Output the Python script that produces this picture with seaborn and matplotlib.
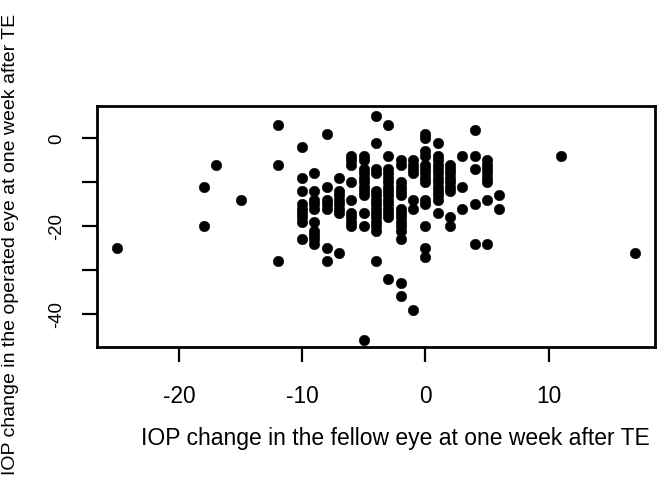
import matplotlib
matplotlib.use("Agg")
import matplotlib.pyplot as plt
import seaborn as sns
import pandas as pd

# IOP change in the fellow eye (x) and operated eye (y) at one week after TE
fellow_change = [
    -25,
    -18, -18,
    -17,
    -15,
    -12, -12, -12,
    -10, -10, -10, -10, -10, -10, -10, -10, -10,
    -9, -9, -9, -9, -9, -9, -9, -9, -9, -9,
    -8, -8, -8, -8, -8, -8, -8,
    -7, -7, -7, -7, -7, -7, -7, -7,
    -6, -6, -6, -6, -6, -6, -6, -6, -6,
    -5, -5, -5, -5, -5, -5, -5, -5, -5, -5, -5, -5,
    -4, -4, -4, -4, -4, -4, -4, -4, -4, -4, -4, -4, -4, -4, -4,
    -3, -3, -3, -3, -3, -3, -3, -3, -3, -3, -3, -3, -3, -3, -3,
    -2, -2, -2, -2, -2, -2, -2, -2, -2, -2, -2, -2, -2, -2, -2,
    -1, -1, -1, -1, -1, -1, -1,
    0, 0, 0, 0, 0, 0, 0, 0, 0, 0, 0, 0, 0, 0,
    1, 1, 1, 1, 1, 1, 1, 1, 1, 1, 1, 1, 1,
    2, 2, 2, 2, 2, 2, 2, 2, 2,
    3, 3, 3,
    4, 4, 4, 4, 4,
    5, 5, 5, 5, 5, 5, 5, 5,
    6, 6,
    11,
    17,
]
operated_change = [
    -25,
    -11, -20,
    -6,
    -14,
    3, -6, -28,
    -2, -9, -12, -15, -16, -17, -18, -19, -23,
    -8, -12, -14, -15, -16, -19, -21, -22, -23, -24,
    1, -11, -14, -15, -16, -25, -28,
    -9, -12, -13, -14, -15, -16, -17, -26,
    -4, -5, -6, -10, -14, -17, -18, -19, -20,
    -4, -5, -7, -8, -9, -10, -11, -12, -13, -17, -20, -46,
    5, -1, -7, -8, -12, -13, -14, -15, -16, -17, -18, -19, -20, -21, -28,
    3, -4, -7, -8, -9, -10, -11, -12, -13, -14, -15, -16, -17, -18, -32,
    -5, -6, -10, -11, -12, -13, -16, -17, -18, -19, -20, -21, -23, -33, -36,
    -5, -6, -7, -8, -14, -16, -39,
    1, 0, -3, -4, -6, -7, -8, -9, -10, -14, -15, -20, -25, -27,
    -1, -4, -5, -6, -7, -8, -9, -10, -11, -12, -13, -14, -17,
    -6, -7, -8, -9, -10, -11, -12, -18, -20,
    -4, -11, -16,
    2, -4, -7, -15, -24,
    -5, -6, -7, -8, -9, -10, -14, -24,
    -13, -16,
    -4,
    -26,
]

x_ticks = [-20, -10, 0, 10]
y_ticks = [0, -10, -20, -30, -40]
y_tick_labels = ["0", "", "-20", "", "-40"]
x_label = "IOP change in the fellow eye at one week after TE"
y_label = "IOP change in the operated eye at one week after TE"

df = pd.DataFrame({"fellow": fellow_change, "operated": operated_change})

sns.set_style("white")
plt.rcParams["font.family"] = ["Liberation Sans", "DejaVu Sans"]
plt.rcParams["text.color"] = "black"
plt.rcParams["axes.labelcolor"] = "black"

fig = plt.figure(figsize=(6.57, 4.88), dpi=100)
L, R, T, B = 96.7, 654.5, 106.0, 347.0
W, H = 657.0, 488.0
ax = fig.add_axes([L / W, 1 - B / H, (R - L) / W, (B - T) / H])

sns.scatterplot(data=df, x="fellow", y="operated", ax=ax, color="black",
                s=58, edgecolor="black", linewidth=0.3, legend=False)

ax.set_xlim(-26.68, 18.6)
ax.set_ylim(-47.5, 7.35)

ax.set_xticks(x_ticks)
ax.set_xticklabels([str(v) for v in x_ticks], fontsize=16.3)
ax.set_yticks(y_ticks)
ax.set_yticklabels(y_tick_labels, fontsize=13.4, rotation=90, va="center")

ax.tick_params(axis="x", bottom=True, direction="out", length=10.5, width=1.6,
               pad=17, color="black", labelcolor="black")
ax.tick_params(axis="y", left=True, direction="out", length=10.5, width=1.6,
               pad=12, color="black", labelcolor="black")

for sp in ax.spines.values():
    sp.set_visible(True)
    sp.set_color("black")
    sp.set_linewidth(2.0)

ax.set_xlabel(x_label, fontsize=16.5, color="black")
ax.set_ylabel(y_label, fontsize=14.0, color="black")
ax.xaxis.set_label_coords((395 - L) / (R - L), (B - 427) / (B - T))
ax.yaxis.set_label_coords((19 - L) / (R - L), (B - 244) / (B - T))

fig.savefig("out.png", dpi=100)
